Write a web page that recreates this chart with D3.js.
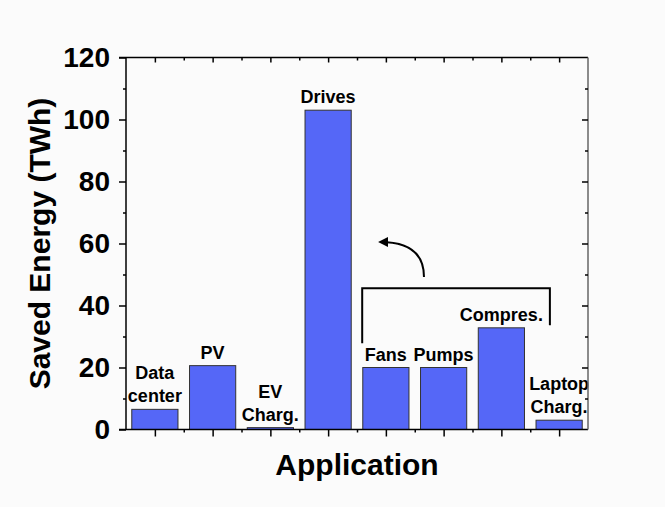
<!DOCTYPE html>
<html>
<head>
<meta charset="utf-8">
<script src="https://cdn.jsdelivr.net/npm/d3@7"></script>
<style>
  html, body { margin: 0; padding: 0; background: #fbfbfb; }
  svg { display: block; font-family: "Liberation Sans", Arial, sans-serif; }
</style>
</head>
<body>
<div id="chart"></div>
<script>
// Données
const categories = ["Data center", "PV", "EV Charg.", "Drives", "Fans", "Pumps", "Compres.", "Laptop Charg."]
const labelLines = [["Data", "center"], ["PV"], ["EV", "Charg."], ["Drives"], ["Fans"], ["Pumps"], ["Compres."], ["Laptop", "Charg."]]
const savedEnergy = [6.5, 20.6, 0.6, 103, 20, 20, 32.8, 3]
const yTicks = [0, 20, 40, 60, 80, 100, 120]
const yMinorTicks = [10, 30, 50, 70, 90, 110]

// Accolade autour de Fans / Pumps / Compres. et flèche (unités : index de bande, TWh)
const bracket = [[4.09, 27.8], [4.09, 45.6], [7.34, 45.6], [7.34, 33.6]]
const arrow = { from: [5.16, 49.2], ctrl: [5.16, 60.5], to: [4.40, 60.5] }

const W = 665, H = 507
const margin = { top: 57.5, right: 77, bottom: 77.5, left: 126 }
const x0 = margin.left, x1 = W - margin.right
const y0 = H - margin.bottom, y1 = margin.top

const svg = d3.select("#chart").append("svg")
  .attr("width", W).attr("height", H)
  .attr("viewBox", `0 0 ${W} ${H}`)

svg.append("rect").attr("width", W).attr("height", H).attr("fill", "#fbfbfb")

const x = d3.scaleBand().domain(categories).range([x0, x1])
  .paddingInner(0.2).paddingOuter(0.1)
// échelle continue par index de bande (ticks mineurs, annotations)
const xi = d3.scaleLinear().domain([0, categories.length]).range([x0, x1])
const y = d3.scaleLinear().domain([0, 120]).range([y0, y1])

const centers = categories.map((_, i) => i + 0.5)
const bounds = d3.range(1, categories.length)

// Barres
svg.append("g").selectAll("rect")
  .data(categories)
  .join("rect")
  .attr("x", (d) => x(d))
  .attr("width", x.bandwidth())
  .attr("y", (d, i) => y(savedEnergy[i]))
  .attr("height", (d, i) => y(0) - y(savedEnergy[i]))
  .attr("fill", "#5567f7")
  .attr("stroke", "#333")
  .attr("stroke-width", 1)

// Étiquettes au-dessus des barres
categories.forEach((c, i) => {
  const lines = labelLines[i]
  const cx = x(c) + x.bandwidth() / 2
  const base = y(savedEnergy[i]) - 7
  lines.forEach((ln, k) => {
    svg.append("text")
      .attr("x", cx)
      .attr("y", base - (lines.length - 1 - k) * 23)
      .attr("text-anchor", "middle")
      .attr("font-size", 18).attr("font-weight", 700)
      .attr("fill", "#000")
      .text(ln)
  })
})

// Cadre
const axisW = 1.5
svg.append("line").attr("x1", x0 - 7).attr("x2", x1).attr("y1", y1).attr("y2", y1)
  .attr("stroke", "#000").attr("stroke-width", axisW)
svg.append("line").attr("x1", x0 - 7).attr("x2", x1).attr("y1", y0).attr("y2", y0)
  .attr("stroke", "#000").attr("stroke-width", axisW)
svg.append("line").attr("x1", x0).attr("x2", x0).attr("y1", y1).attr("y2", y0)
  .attr("stroke", "#000").attr("stroke-width", axisW)
svg.append("line").attr("x1", x1).attr("x2", x1).attr("y1", y1).attr("y2", y0)
  .attr("stroke", "#666").attr("stroke-width", axisW)

// Axe Y gauche (ticks extérieurs)
const yAxis = svg.append("g")
  .attr("transform", `translate(${x0},0)`)
  .call(d3.axisLeft(y).tickValues(yTicks).tickSize(7).tickPadding(9).tickFormat(d3.format("d")))
yAxis.select(".domain").remove()
yAxis.selectAll("line").attr("stroke", "#000").attr("stroke-width", 1.5)
yAxis.selectAll("text")
  .attr("font-size", 28).attr("font-weight", 700).attr("fill", "#000")
  .attr("font-family", "Liberation Sans, Arial, sans-serif")

const yMinor = svg.append("g").attr("transform", `translate(${x0},0)`)
  .call(d3.axisLeft(y).tickValues(yMinorTicks).tickSize(3).tickFormat(""))
yMinor.select(".domain").remove()
yMinor.selectAll("line").attr("stroke", "#000").attr("stroke-width", 1.5)

// Axe Y droit (ticks intérieurs)
const yRight = svg.append("g").attr("transform", `translate(${x1},0)`)
  .call(d3.axisLeft(y).tickValues(yTicks.slice(1, -1)).tickSize(6).tickFormat(""))
yRight.select(".domain").remove()
yRight.selectAll("line").attr("stroke", "#000").attr("stroke-width", 1.5)
const yRightMinor = svg.append("g").attr("transform", `translate(${x1},0)`)
  .call(d3.axisLeft(y).tickValues(yMinorTicks).tickSize(3).tickFormat(""))
yRightMinor.select(".domain").remove()
yRightMinor.selectAll("line").attr("stroke", "#000").attr("stroke-width", 1.5)

// Axe X bas (ticks extérieurs) : majeurs aux centres, mineurs entre les barres
const xBottom = svg.append("g").attr("transform", `translate(0,${y0})`)
  .call(d3.axisBottom(xi).tickValues(centers).tickSize(7).tickFormat(""))
xBottom.select(".domain").remove()
xBottom.selectAll("line").attr("stroke", "#000").attr("stroke-width", 1.5)
const xBottomMinor = svg.append("g").attr("transform", `translate(0,${y0})`)
  .call(d3.axisBottom(xi).tickValues(bounds).tickSize(3).tickFormat(""))
xBottomMinor.select(".domain").remove()
xBottomMinor.selectAll("line").attr("stroke", "#000").attr("stroke-width", 1.5)

// Axe X haut (ticks intérieurs)
const xTop = svg.append("g").attr("transform", `translate(0,${y1})`)
  .call(d3.axisBottom(xi).tickValues(centers).tickSize(5).tickFormat(""))
xTop.select(".domain").remove()
xTop.selectAll("line").attr("stroke", "#000").attr("stroke-width", 1.5)
const xTopMinor = svg.append("g").attr("transform", `translate(0,${y1})`)
  .call(d3.axisBottom(xi).tickValues(bounds).tickSize(3).tickFormat(""))
xTopMinor.select(".domain").remove()
xTopMinor.selectAll("line").attr("stroke", "#000").attr("stroke-width", 1.5)

// Titres d'axes
svg.append("text")
  .attr("transform", `translate(50,${(y0 + y1) / 2}) rotate(-90)`)
  .attr("text-anchor", "middle")
  .attr("font-size", 30).attr("font-weight", 700).attr("fill", "#000")
  .text("Saved Energy (TWh)")

svg.append("text")
  .attr("x", (x0 + x1) / 2).attr("y", 475)
  .attr("text-anchor", "middle")
  .attr("font-size", 30).attr("font-weight", 700).attr("fill", "#000")
  .text("Application")

// Accolade
svg.append("path")
  .attr("d", d3.line().x((d) => xi(d[0])).y((d) => y(d[1]))(bracket))
  .attr("fill", "none").attr("stroke", "#000").attr("stroke-width", 2)

// Flèche courbe
svg.append("defs").append("marker")
  .attr("id", "head")
  .attr("viewBox", "0 0 10 10")
  .attr("refX", 8).attr("refY", 5)
  .attr("markerWidth", 5).attr("markerHeight", 5)
  .attr("orient", "auto")
  .append("path").attr("d", "M0,0L10,5L0,10z").attr("fill", "#000")

const ap = d3.path()
ap.moveTo(xi(arrow.from[0]), y(arrow.from[1]))
ap.quadraticCurveTo(xi(arrow.ctrl[0]), y(arrow.ctrl[1]), xi(arrow.to[0]), y(arrow.to[1]))
svg.append("path")
  .attr("d", ap.toString())
  .attr("fill", "none").attr("stroke", "#000").attr("stroke-width", 2)
  .attr("marker-end", "url(#head)")
</script>
</body>
</html>
